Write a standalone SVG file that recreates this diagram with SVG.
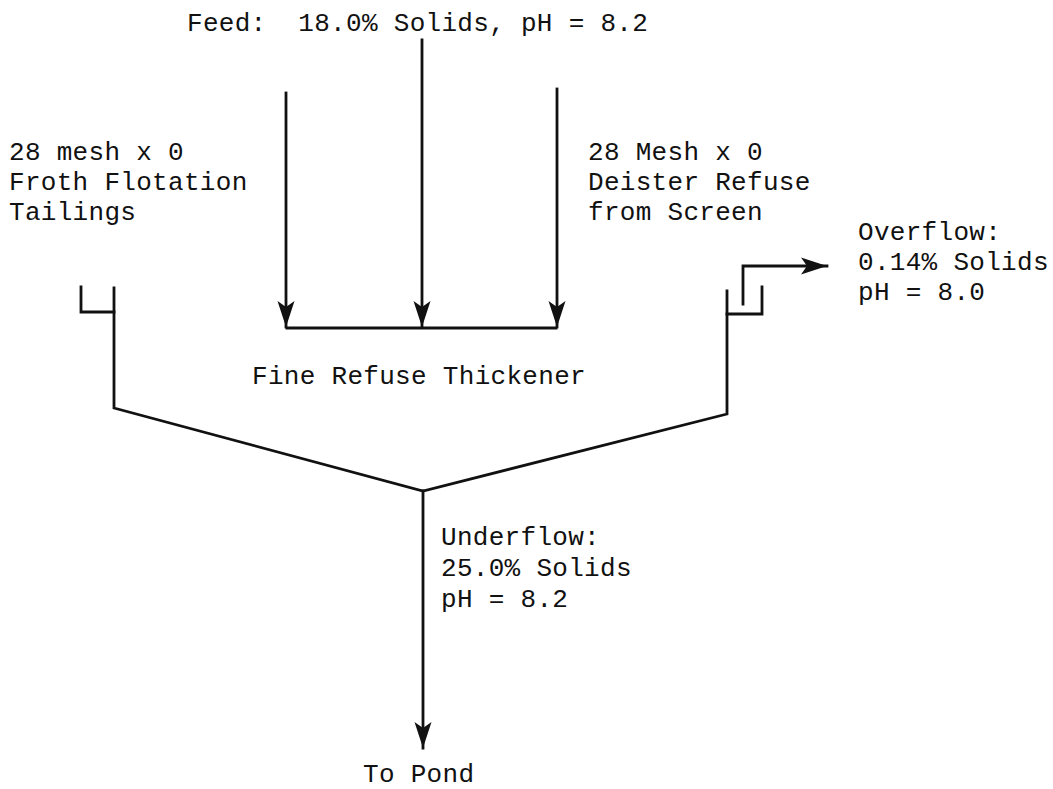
<svg xmlns="http://www.w3.org/2000/svg" width="1053" height="789" viewBox="0 0 1053 789">
<style>
  .ln{fill:none;stroke:#111;stroke-width:2.8;stroke-linecap:square;stroke-linejoin:miter}
  .t{font-family:"Liberation Mono","DejaVu Sans Mono",monospace;font-size:26px;letter-spacing:0.3px;fill:#111;white-space:pre}
</style>
<defs>
  <marker id="ah" markerUnits="userSpaceOnUse" markerWidth="40" markerHeight="30" viewBox="-30 -15 40 30" refX="0" refY="0" orient="auto">
    <path d="M-26,-8.5 L0,0 L-26,8.5 L-20,0 Z" fill="#111"/>
  </marker>
</defs>
<rect width="1053" height="789" fill="#fff"/>

<g id="thickener">
  <path class="ln" d="M81,287 V312 H114"/>
  <path class="ln" d="M114,288 V408 L423,491 L727,414 V291"/>
  <path class="ln" d="M727,314 H762 V287"/>
  <path class="ln" d="M287,328 H556"/>
  <text class="t" x="252" y="384">Fine Refuse Thickener</text>
</g>

<g id="connectors">
  <path class="ln" d="M422,40 V327" marker-end="url(#ah)"/>
  <path class="ln" d="M286,93 V327" marker-end="url(#ah)"/>
  <path class="ln" d="M557,89 V327" marker-end="url(#ah)"/>
  <path class="ln" d="M743,304 V266 H827" marker-end="url(#ah)"/>
  <path class="ln" d="M423,491 V748" marker-end="url(#ah)"/>
</g>

<g id="feed-label">
  <text class="t" x="187" y="31">Feed:  18.0% Solids, pH = 8.2</text>
</g>
<g id="tailings-label">
  <text class="t" x="9" y="160">28 mesh x 0</text>
  <text class="t" x="9" y="190">Froth Flotation</text>
  <text class="t" x="9" y="220">Tailings</text>
</g>
<g id="deister-label">
  <text class="t" x="588" y="160">28 Mesh x 0</text>
  <text class="t" x="588" y="190">Deister Refuse</text>
  <text class="t" x="588" y="220">from Screen</text>
</g>
<g id="overflow-label">
  <text class="t" x="858" y="240">Overflow:</text>
  <text class="t" x="858" y="270">0.14% Solids</text>
  <text class="t" x="858" y="300">pH = 8.0</text>
</g>
<g id="underflow-label">
  <text class="t" x="441" y="545">Underflow:</text>
  <text class="t" x="441" y="576">25.0% Solids</text>
  <text class="t" x="441" y="607">pH = 8.2</text>
</g>
<g id="pond-label">
  <text class="t" x="363" y="782">To Pond</text>
</g>
</svg>
